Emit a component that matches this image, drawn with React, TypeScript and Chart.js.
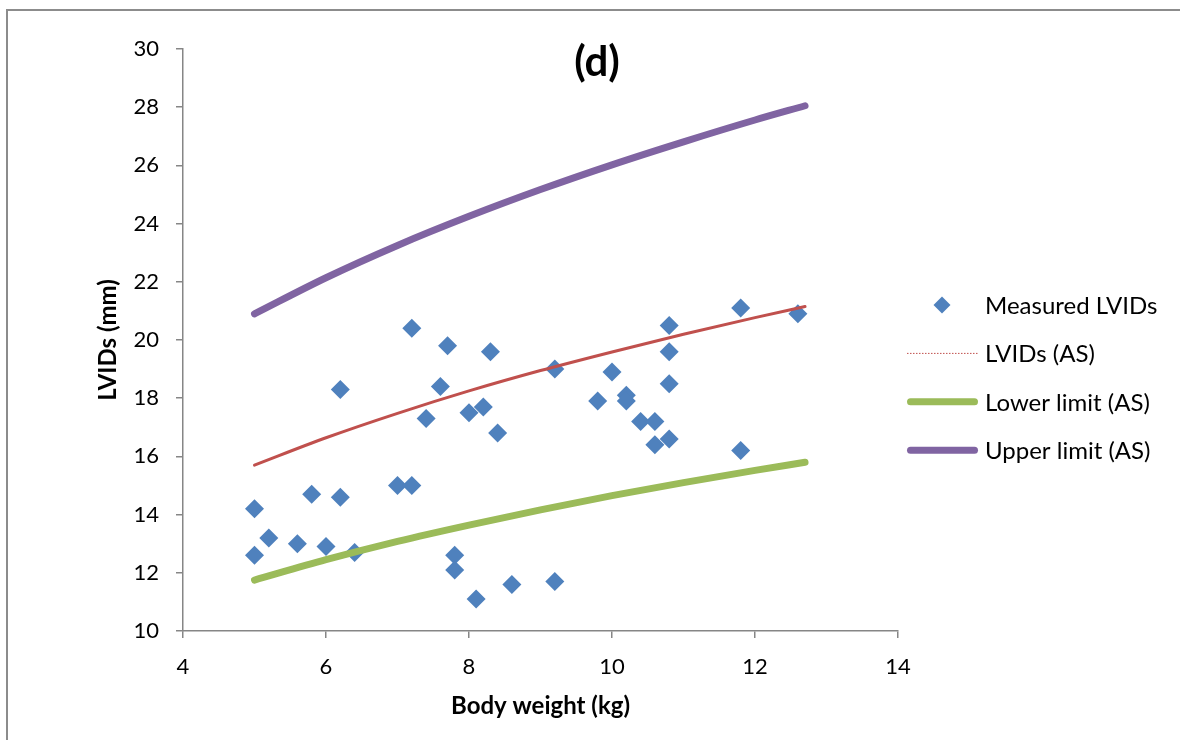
import React, { useEffect, useRef } from "react";
import { Chart, registerables } from "chart.js";

Chart.register(...registerables);

// ---- Data ----
const chartTitle = "(d)";
const xAxisTitle = "Body weight (kg)";
const yAxisTitle = "LVIDs (mm)";
const seriesNames = ["Measured LVIDs", "LVIDs (AS)", "Lower limit (AS)", "Upper limit (AS)"];

const measuredWeight = [
  5.0, 5.0, 5.2, 5.6, 5.8, 6.0, 6.2, 6.2, 6.4, 7.0,
  7.2, 7.2, 7.4, 7.6, 7.7, 7.8, 7.8, 8.0, 8.2, 8.1,
  8.3, 8.4, 8.6, 9.2, 9.2, 9.8, 10.0, 10.2, 10.2, 10.4,
  10.6, 10.6, 10.8, 10.8, 10.8, 10.8, 11.8, 11.8, 12.6,
];
const measuredLVIDs = [
  14.2, 12.6, 13.2, 13.0, 14.7, 12.9, 18.3, 14.6, 12.7, 15.0,
  15.0, 20.4, 17.3, 18.4, 19.8, 12.6, 12.1, 17.5, 17.7, 11.1,
  19.6, 16.8, 11.6, 19.0, 11.7, 17.9, 18.9, 18.1, 17.9, 17.2,
  17.2, 16.4, 16.6, 19.6, 20.5, 18.5, 21.1, 16.2, 20.9,
];

const curveWeight = [5, 6, 7, 8, 9, 10, 11, 12, 12.7];
const lvidsAS = [15.7, 16.64, 17.48, 18.25, 18.95, 19.59, 20.2, 20.77, 21.15];
const lowerLimitAS = [11.75, 12.45, 13.08, 13.64, 14.16, 14.65, 15.1, 15.52, 15.8];
const upperLimitAS = [20.9, 22.14, 23.25, 24.25, 25.17, 26.02, 26.81, 27.56, 28.05];

const xMin = 4, xMax = 14, xStep = 2;
const yMin = 10, yMax = 30, yStep = 2;

// ---- Styles ----
const FONT = "Lato";
const blue = "#4F81BD";
const red = "#C0504D";
const green = "#9BBB59";
const purple = "#8064A2";
const axisGray = "#868686";

const toPoints = (xs: number[], ys: number[]) => xs.map((x, i) => ({ x, y: ys[i] }));

const titlePlugin = {
  id: "cornerTitle",
  afterDraw(chart: any) {
    const { ctx } = chart;
    ctx.save();
    ctx.font = `bold 42px ${FONT}`;
    ctx.fillStyle = "#000";
    ctx.textAlign = "center";
    ctx.textBaseline = "middle";
    ctx.fillText(chartTitle, 589, 51);
    ctx.restore();
  },
};

const legendPlugin = {
  id: "sideLegend",
  afterDraw(chart: any) {
    const { ctx, chartArea } = chart;
    const ds = chart.data.datasets;
    const r = chartArea.right;
    ctx.save();
    ds.forEach((d: any, i: number) => {
      const y = chartArea.top + 256 + i * 48.4;
      if (i === 0) {
        const cx = r + 44;
        const rad = 8.5;
        ctx.beginPath();
        ctx.moveTo(cx - rad, y);
        ctx.lineTo(cx, y - rad);
        ctx.lineTo(cx + rad, y);
        ctx.lineTo(cx, y + rad);
        ctx.closePath();
        ctx.fillStyle = d.backgroundColor;
        ctx.fill();
      } else if (i === 1) {
        ctx.beginPath();
        ctx.setLineDash([1.5, 1.5]);
        ctx.lineWidth = 1;
        ctx.strokeStyle = d.borderColor;
        ctx.moveTo(r + 9, y);
        ctx.lineTo(r + 80, y);
        ctx.stroke();
        ctx.setLineDash([]);
      } else {
        ctx.beginPath();
        ctx.lineWidth = 7;
        ctx.lineCap = "round";
        ctx.strokeStyle = d.borderColor;
        ctx.moveTo(r + 12.5, y);
        ctx.lineTo(r + 76.5, y);
        ctx.stroke();
      }
      ctx.font = `24px ${FONT}`;
      ctx.fillStyle = "#000";
      ctx.textAlign = "left";
      ctx.textBaseline = "middle";
      ctx.fillText(d.label, r + 87, y + 1);
    });
    ctx.restore();
  },
};

export default function App() {
  const canvasRef = useRef<HTMLCanvasElement | null>(null);

  useEffect(() => {
    if (!canvasRef.current) return;
    const chart = new Chart(canvasRef.current, {
      type: "scatter",
      data: {
        datasets: [
          {
            label: seriesNames[0],
            data: toPoints(measuredWeight, measuredLVIDs),
            pointStyle: "rectRot",
            pointRadius: 9.5,
            pointHoverRadius: 9.5,
            backgroundColor: blue,
            borderColor: blue,
            borderWidth: 0,
            showLine: false,
            order: 4,
          },
          {
            label: seriesNames[1],
            data: toPoints(curveWeight, lvidsAS),
            showLine: true,
            pointRadius: 0,
            borderColor: red,
            backgroundColor: red,
            borderWidth: 3,
            borderCapStyle: "round",
            cubicInterpolationMode: "monotone",
            order: 1,
          },
          {
            label: seriesNames[2],
            data: toPoints(curveWeight, lowerLimitAS),
            showLine: true,
            pointRadius: 0,
            borderColor: green,
            backgroundColor: green,
            borderWidth: 7,
            borderCapStyle: "round",
            cubicInterpolationMode: "monotone",
            order: 2,
          },
          {
            label: seriesNames[3],
            data: toPoints(curveWeight, upperLimitAS),
            showLine: true,
            pointRadius: 0,
            borderColor: purple,
            backgroundColor: purple,
            borderWidth: 7,
            borderCapStyle: "round",
            cubicInterpolationMode: "monotone",
            order: 3,
          },
        ],
      } as any,
      options: {
        animation: false,
        responsive: false,
        devicePixelRatio: 1,
        layout: { padding: { left: 0, top: 38, right: 282, bottom: 0 } },
        plugins: {
          legend: { display: false },
          title: { display: false },
          tooltip: { enabled: false },
        },
        scales: {
          x: {
            type: "linear",
            min: xMin,
            max: xMax,
            afterFit: (s: any) => { s.height = 109; },
            ticks: {
              stepSize: xStep,
              color: "#000",
              padding: 16,
              font: { family: FONT, size: 22 },
            },
            grid: {
              drawOnChartArea: false,
              drawTicks: true,
              tickLength: 7,
              color: axisGray,
              lineWidth: 1.5,
            },
            border: { display: true, color: axisGray, width: 1.5 },
            title: {
              display: true,
              text: xAxisTitle,
              color: "#000",
              font: { family: FONT, size: 24, weight: "bold" },
              padding: { top: 0, bottom: 19.6 },
            },
          },
          y: {
            type: "linear",
            min: yMin,
            max: yMax,
            afterFit: (s: any) => { s.width = 175; },
            ticks: {
              stepSize: yStep,
              color: "#000",
              padding: 17,
              font: { family: FONT, size: 22 },
            },
            grid: {
              drawOnChartArea: false,
              drawTicks: true,
              tickLength: 7,
              color: axisGray,
              lineWidth: 1.5,
            },
            border: { display: true, color: axisGray, width: 1.5 },
            title: {
              display: true,
              text: yAxisTitle,
              color: "#000",
              font: { family: FONT, size: 24, weight: "bold" },
              padding: { top: 85.6, bottom: 0 },
            },
          },
        },
      } as any,
      plugins: [titlePlugin, legendPlugin],
    });
    return () => chart.destroy();
  }, []);

  return (
    <div
      style={{
        position: "absolute",
        left: 6,
        top: 9,
        borderLeft: "2px solid #8c8c8c",
        borderTop: "2px solid #8c8c8c",
        background: "#fff",
      }}
    >
      <canvas ref={canvasRef} width={1172} height={729} style={{ display: "block", width: 1172, height: 729 }} />
    </div>
  );
}
